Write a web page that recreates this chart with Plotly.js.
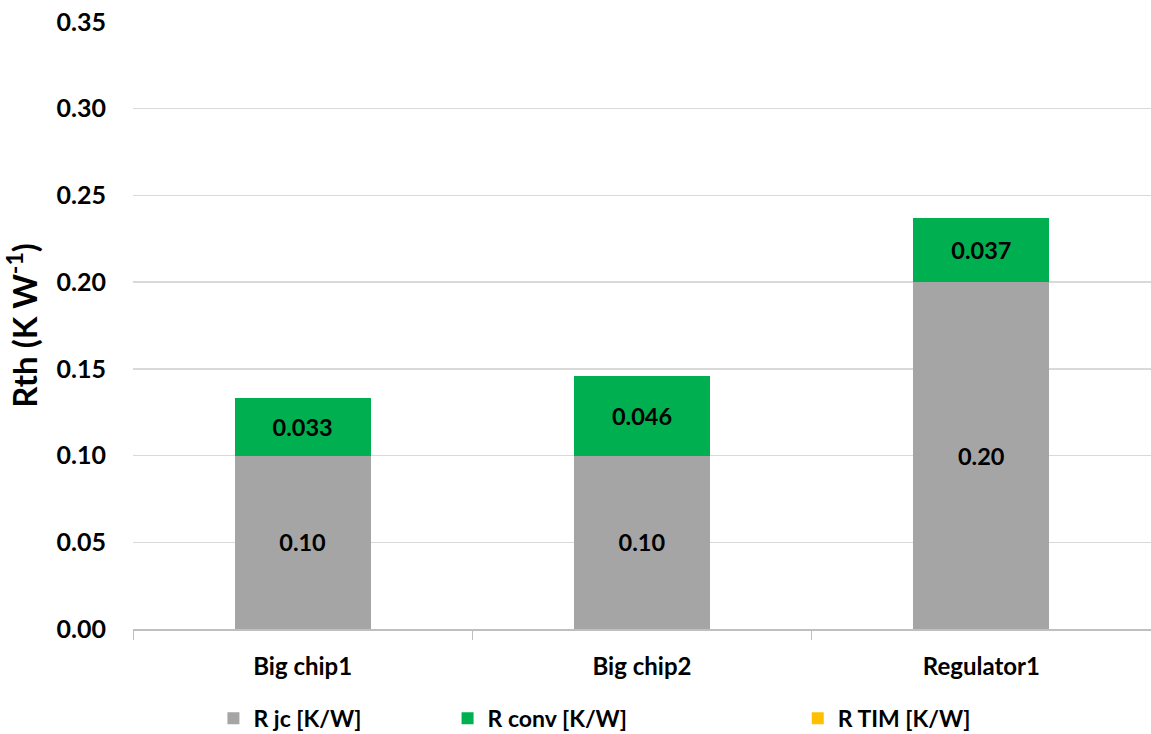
<!DOCTYPE html>
<html>
<head>
<meta charset="utf-8">
<script src="https://cdn.plot.ly/plotly-3.0.1.min.js"></script>
<style>
  html, body { margin: 0; padding: 0; background: #ffffff; }
  #chart { width: 1151px; height: 734px; }
</style>
</head>
<body>
<div id="chart"></div>
<script>
// Thermal resistance breakdown per component
const categories = ['Big chip1', 'Big chip2', 'Regulator1'];
const rJc = [0.10, 0.10, 0.20];
const rConv = [0.033, 0.046, 0.037];
const rTim = [0, 0, 0];
const yTicks = [0, 0.05, 0.10, 0.15, 0.20, 0.25, 0.30, 0.35];
const yTickLabels = ['0.00', '0.05', '0.10', '0.15', '0.20', '0.25', '0.30', '0.35'];

const FONT = 'Lato, "Open Sans", sans-serif';
const labelFont = { family: FONT, size: 23.5, color: '#000000', weight: 'bold' };

const traces = [
  {
    type: 'bar', name: 'R jc [K/W]', x: categories, y: rJc,
    marker: { color: '#A5A5A5' },
    texttemplate: '%{y:.2f}', textposition: 'inside', insidetextanchor: 'middle',
    textfont: labelFont, legend: 'legend', hoverinfo: 'skip'
  },
  {
    type: 'bar', name: 'R conv [K/W]', x: categories, y: rConv,
    marker: { color: '#00B050' },
    texttemplate: '%{y:.3f}', textposition: 'inside', insidetextanchor: 'middle',
    textfont: labelFont, legend: 'legend2', hoverinfo: 'skip'
  },
  {
    type: 'bar', name: 'R TIM [K/W]', x: categories, y: rTim,
    marker: { color: '#FFC000' },
    textposition: 'none', legend: 'legend3', hoverinfo: 'skip'
  }
];

const legendBase = {
  orientation: 'h', yanchor: 'middle', y: -0.147, xanchor: 'left',
  font: { family: FONT, size: 23, color: '#000000', weight: 'bold' },
  bgcolor: 'rgba(0,0,0,0)', itemclick: false, itemdoubleclick: false
};

const layout = {
  width: 1151, height: 734,
  margin: { l: 133, r: 0, t: 22, b: 105, autoexpand: false },
  paper_bgcolor: '#ffffff', plot_bgcolor: '#ffffff',
  barmode: 'stack', bargap: 0.6,
  font: { family: FONT, color: '#000000' },
  showlegend: true,
  legend: Object.assign({}, legendBase, { x: 0.079 }),
  legend2: Object.assign({}, legendBase, { x: 0.309 }),
  legend3: Object.assign({}, legendBase, { x: 0.653 }),
  xaxis: {
    type: 'category', tickson: 'boundaries', ticks: 'outside', ticklen: 9,
    tickcolor: '#BFBFBF', tickwidth: 1,
    showline: true, linecolor: '#BFBFBF', linewidth: 1.5,
    showgrid: false, zeroline: false,
    tickfont: { family: FONT, size: 24, color: '#000000', weight: 'bold' },
    ticklabelstandoff: 16, fixedrange: true
  },
  yaxis: {
    range: [0, 0.35], tickvals: yTicks, ticktext: yTickLabels,
    showgrid: true, gridcolor: '#D9D9D9', gridwidth: 1.5,
    zeroline: false, showline: false, ticks: '',
    tickfont: { family: FONT, size: 25, color: '#000000', weight: 'bold' },
    ticklabelstandoff: 26,
    title: { text: 'Rth (K W<sup>-1</sup>)', font: { family: FONT, size: 33, color: '#000000', weight: 'bold' }, standoff: 12 },
    fixedrange: true
  }
};

Plotly.newPlot('chart', traces, layout, { displayModeBar: false, staticPlot: true });
</script>
</body>
</html>
